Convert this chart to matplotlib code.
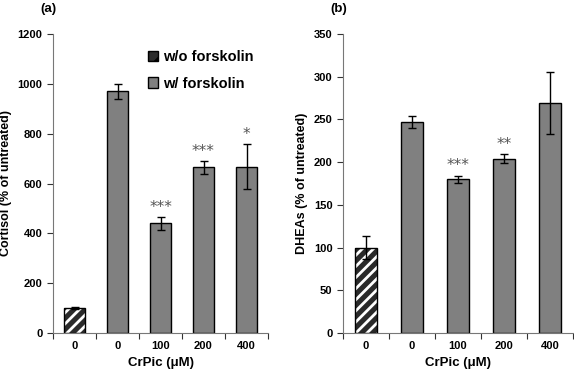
import matplotlib
matplotlib.use("Agg")
import matplotlib.pyplot as plt
import numpy as np
from matplotlib.patches import Patch

plt.rcParams['font.family'] = ['Liberation Sans', 'DejaVu Sans']
plt.rcParams['hatch.linewidth'] = 2.0

categories = ['0', '0', '100', '200', '400']
cortisol = [100, 970, 440, 665, 668]
cortisol_err = [5, 30, 25, 25, 90]
cortisol_sig = ['', '', '***', '***', '*']
dheas = [100, 247, 180, 204, 269]
dheas_err = [13, 7, 4, 5, 36]
dheas_sig = ['', '', '***', '**', '']

fig = plt.figure(figsize=(5.74, 3.72), dpi=100)
W, H = 574, 372
axA = fig.add_axes([53 / W, 1 - 333 / H, (268 - 53) / W, (333 - 34) / H])
axB = fig.add_axes([343 / W, 1 - 333 / H, (573 - 343) / W, (333 - 34) / H])

def panel(ax, vals, errs, sig, ymax, ystep, ylabel, sigoff):
    x = np.arange(len(vals))
    gray = '#808080'
    ax.bar(x[0], vals[0], width=0.47, color='#2a2a2a', edgecolor='white',
           hatch='///', linewidth=0, zorder=2)
    ax.bar(x[0], vals[0], width=0.47, fill=False, edgecolor='black',
           linewidth=1.0, zorder=3)
    ax.bar(x[1:], vals[1:], width=0.47, color=gray, edgecolor='black',
           linewidth=1.0, zorder=2)
    ax.errorbar(x, vals, yerr=errs, fmt='none', ecolor='black', elinewidth=1.0,
                capsize=3, capthick=1.0, zorder=4)
    for xi, v, e, s in zip(x, vals, errs, sig):
        if s:
            ax.text(xi, v + e + sigoff, s, ha='center', va='bottom',
                    fontsize=11, color='#555555', family='DejaVu Sans')
    ax.set_xlim(-0.5, len(vals) - 0.5)
    ax.set_ylim(0, ymax)
    ax.set_yticks(np.arange(0, ymax + 1, ystep))
    ax.set_xticks(np.arange(-0.5, len(vals), 1.0))
    ax.set_xticklabels([])
    ax.set_xticks(x, minor=True)
    ax.set_xticklabels(categories, minor=True, fontsize=8, fontweight='bold')
    ax.tick_params(axis='x', which='minor', length=0, pad=6)
    ax.tick_params(axis='x', which='major', length=4, direction='out', color='#333333')
    ax.tick_params(axis='y', length=4, direction='out', labelsize=8, color='#333333')
    for lab in ax.get_yticklabels():
        lab.set_fontweight('bold')
    for sp in ['top', 'right']:
        ax.spines[sp].set_visible(False)
    for sp in ['left', 'bottom']:
        ax.spines[sp].set_color('#777777')
    ax.set_xlabel('CrPic (μM)', fontsize=9.5, fontweight='bold', labelpad=4)
    ax.set_ylabel(ylabel, fontsize=9, fontweight='bold', labelpad=4)

panel(axA, cortisol, cortisol_err, cortisol_sig, 1200, 200,
      'Cortisol (% of untreated)', 10)
panel(axB, dheas, dheas_err, dheas_sig, 350, 50,
      'DHEAs (% of untreated)', 3)

fig.text(40 / W, 1 - 3 / H, '(a)', fontsize=9.5, fontweight='bold', ha='left', va='top')
fig.text(330 / W, 1 - 3 / H, '(b)', fontsize=9.5, fontweight='bold', ha='left', va='top')

h1 = Patch(facecolor='#2a2a2a', edgecolor='black', hatch='//', label='w/o forskolin')
h2 = Patch(facecolor='#808080', edgecolor='black', label='w/ forskolin')
leg = axA.legend(handles=[h1, h2], loc='upper left', bbox_to_anchor=(0.38, 0.99),
                 frameon=False, fontsize=10.5, handlelength=0.7, handleheight=0.7,
                 handletextpad=0.35, labelspacing=0.85)
for t in leg.get_texts():
    t.set_fontweight('bold')

fig.savefig('out.png', dpi=100)
